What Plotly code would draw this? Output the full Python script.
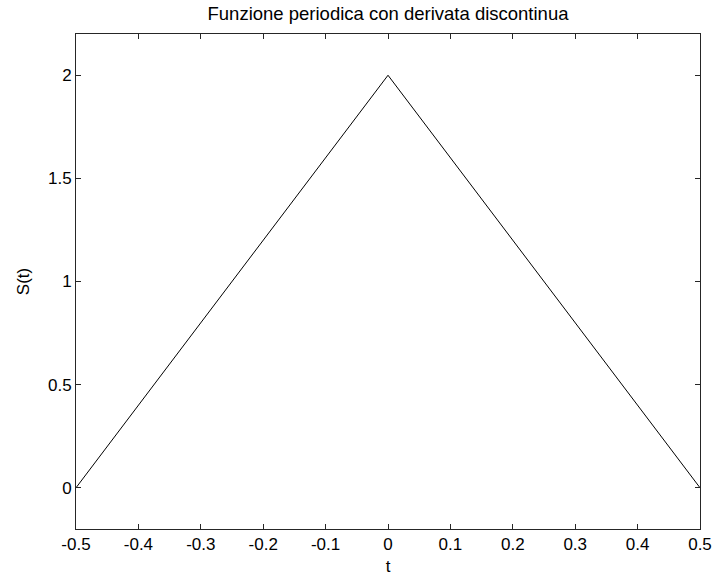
import plotly.graph_objects as go

# Periodic triangle wave over one period
t = [-0.5, 0.0, 0.5]
s = [0.0, 2.0, 0.0]

x_ticks = [-0.5, -0.4, -0.3, -0.2, -0.1, 0.0, 0.1, 0.2, 0.3, 0.4, 0.5]
x_tick_text = ["-0.5", "-0.4", "-0.3", "-0.2", "-0.1", "0", "0.1", "0.2", "0.3", "0.4", "0.5"]
y_ticks = [0.0, 0.5, 1.0, 1.5, 2.0]
y_tick_text = ["0", "0.5", "1", "1.5", "2"]

FONT = "Liberation Sans, Arial"
SIZE = 17

axis_common = dict(showline=True, linecolor="#262626", linewidth=1, mirror="ticks",
                   ticks="inside", ticklen=5, tickcolor="#262626", tickwidth=1,
                   showgrid=False, zeroline=False, automargin=False,
                   tickfont=dict(family=FONT, size=SIZE, color="black"))

fig = go.Figure()
fig.add_trace(go.Scatter(x=t, y=s, mode="lines",
                         line=dict(color="black", width=1), showlegend=False))

fig.update_layout(
    width=715, height=577,
    margin=dict(l=76, r=15, t=34, b=48, autoexpand=False),
    paper_bgcolor="white", plot_bgcolor="white",
    title=dict(text="Funzione periodica con derivata discontinua",
               x=0.5, xanchor="center", xref="paper",
               y=1 - 14 / 577, yanchor="middle",
               font=dict(family=FONT, size=18.5, color="black")),
    xaxis=dict(range=[-0.5, 0.5], tickvals=x_ticks, ticktext=x_tick_text,
               title=dict(text="t", standoff=6,
                          font=dict(family=FONT, size=SIZE, color="black")),
               **axis_common),
    yaxis=dict(range=[-0.2, 2.2], tickvals=y_ticks, ticktext=y_tick_text,
               title=dict(text="S(t)", standoff=14,
                          font=dict(family=FONT, size=SIZE, color="black")),
               **axis_common),
)

fig.write_html("out.html")
